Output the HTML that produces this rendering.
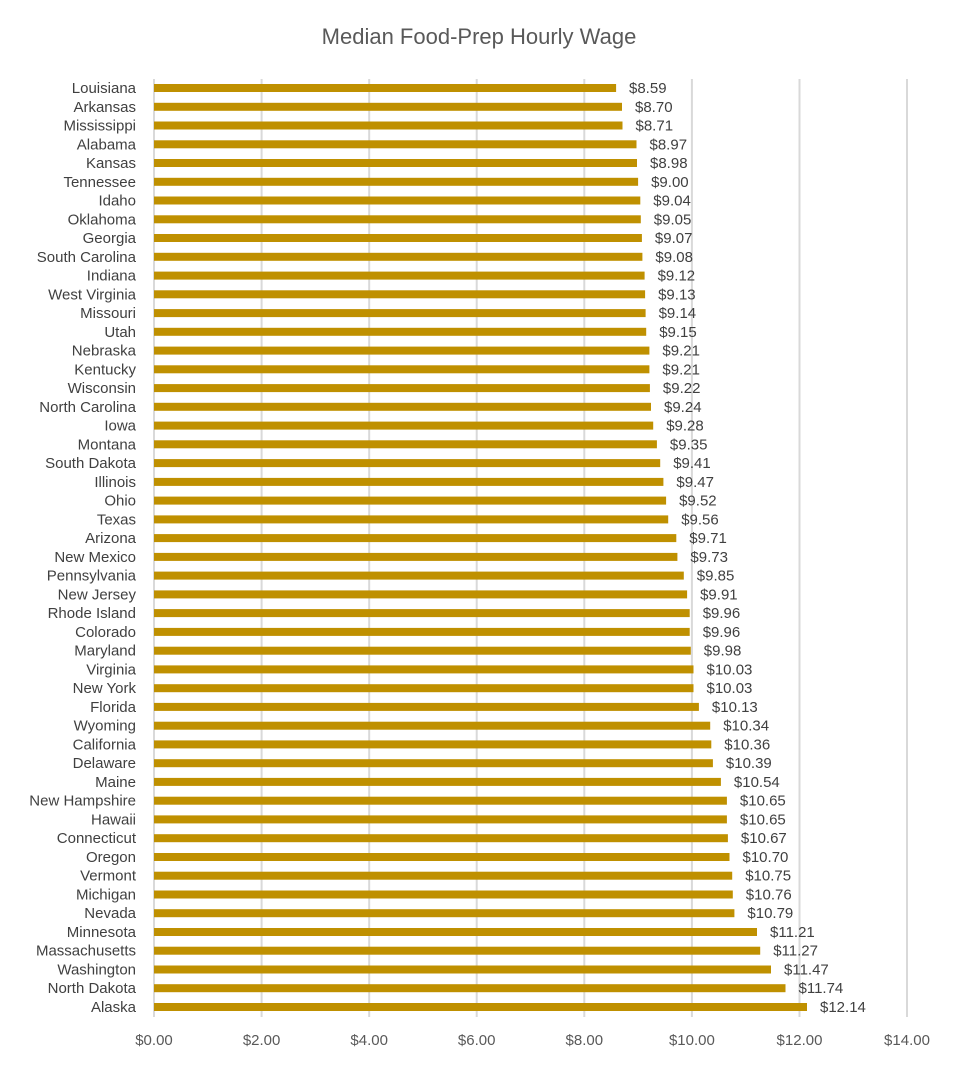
<!DOCTYPE html>
<html><head><meta charset="utf-8"><style>
html,body{margin:0;padding:0;background:#fff;}
svg{display:block;font-family:"Liberation Sans",sans-serif;}
.s{font-size:15px;fill:#404040;text-anchor:end;}
.v{font-size:15px;fill:#404040;}
.t{font-size:15px;fill:#595959;text-anchor:middle;}
</style></head><body>
<svg width="958" height="1065" viewBox="0 0 958 1065">
<rect width="958" height="1065" fill="#fff"/>
<text x="479" y="44" text-anchor="middle" font-size="22" fill="#595959">Median Food-Prep Hourly Wage</text>
<g stroke="#d9d9d9" stroke-width="2">
<line x1="261.6" y1="79" x2="261.6" y2="1017"/><line x1="369.2" y1="79" x2="369.2" y2="1017"/><line x1="476.7" y1="79" x2="476.7" y2="1017"/><line x1="584.3" y1="79" x2="584.3" y2="1017"/><line x1="691.9" y1="79" x2="691.9" y2="1017"/><line x1="799.5" y1="79" x2="799.5" y2="1017"/><line x1="907" y1="79" x2="907" y2="1017"/>
<line x1="154" y1="79" x2="154" y2="1017"/>
</g>
<g fill="#bf9000">
<rect x="154" y="84" width="462.1" height="8"/><rect x="154" y="102.8" width="468" height="8"/><rect x="154" y="121.5" width="468.5" height="8"/><rect x="154" y="140.3" width="482.5" height="8"/><rect x="154" y="159" width="483" height="8"/><rect x="154" y="177.8" width="484.1" height="8"/><rect x="154" y="196.5" width="486.3" height="8"/><rect x="154" y="215.3" width="486.8" height="8"/><rect x="154" y="234" width="487.9" height="8"/><rect x="154" y="252.8" width="488.4" height="8"/>
<rect x="154" y="271.6" width="490.6" height="8"/><rect x="154" y="290.3" width="491.1" height="8"/><rect x="154" y="309.1" width="491.6" height="8"/><rect x="154" y="327.8" width="492.2" height="8"/><rect x="154" y="346.6" width="495.4" height="8"/><rect x="154" y="365.3" width="495.4" height="8"/><rect x="154" y="384.1" width="495.9" height="8"/><rect x="154" y="402.8" width="497" height="8"/><rect x="154" y="421.6" width="499.2" height="8"/><rect x="154" y="440.3" width="502.9" height="8"/>
<rect x="154" y="459.1" width="506.2" height="8"/><rect x="154" y="477.9" width="509.4" height="8"/><rect x="154" y="496.6" width="512.1" height="8"/><rect x="154" y="515.4" width="514.2" height="8"/><rect x="154" y="534.1" width="522.3" height="8"/><rect x="154" y="552.9" width="523.4" height="8"/><rect x="154" y="571.6" width="529.8" height="8"/><rect x="154" y="590.4" width="533.1" height="8"/><rect x="154" y="609.1" width="535.7" height="8"/><rect x="154" y="627.9" width="535.7" height="8"/>
<rect x="154" y="646.7" width="536.8" height="8"/><rect x="154" y="665.4" width="539.5" height="8"/><rect x="154" y="684.2" width="539.5" height="8"/><rect x="154" y="702.9" width="544.9" height="8"/><rect x="154" y="721.7" width="556.2" height="8"/><rect x="154" y="740.4" width="557.3" height="8"/><rect x="154" y="759.2" width="558.9" height="8"/><rect x="154" y="777.9" width="566.9" height="8"/><rect x="154" y="796.7" width="572.9" height="8"/><rect x="154" y="815.4" width="572.9" height="8"/>
<rect x="154" y="834.2" width="573.9" height="8"/><rect x="154" y="853" width="575.5" height="8"/><rect x="154" y="871.7" width="578.2" height="8"/><rect x="154" y="890.5" width="578.8" height="8"/><rect x="154" y="909.2" width="580.4" height="8"/><rect x="154" y="928" width="603" height="8"/><rect x="154" y="946.7" width="606.2" height="8"/><rect x="154" y="965.5" width="617" height="8"/><rect x="154" y="984.2" width="631.5" height="8"/><rect x="154" y="1003" width="653" height="8"/>
</g>
<g class="s">
<text x="136" y="93">Louisiana</text><text x="136" y="111.8">Arkansas</text><text x="136" y="130.5">Mississippi</text><text x="136" y="149.3">Alabama</text><text x="136" y="168">Kansas</text><text x="136" y="186.8">Tennessee</text><text x="136" y="205.5">Idaho</text><text x="136" y="224.3">Oklahoma</text><text x="136" y="243">Georgia</text><text x="136" y="261.8">South Carolina</text>
<text x="136" y="280.6">Indiana</text><text x="136" y="299.3">West Virginia</text><text x="136" y="318.1">Missouri</text><text x="136" y="336.8">Utah</text><text x="136" y="355.6">Nebraska</text><text x="136" y="374.3">Kentucky</text><text x="136" y="393.1">Wisconsin</text><text x="136" y="411.8">North Carolina</text><text x="136" y="430.6">Iowa</text><text x="136" y="449.3">Montana</text>
<text x="136" y="468.1">South Dakota</text><text x="136" y="486.9">Illinois</text><text x="136" y="505.6">Ohio</text><text x="136" y="524.4">Texas</text><text x="136" y="543.1">Arizona</text><text x="136" y="561.9">New Mexico</text><text x="136" y="580.6">Pennsylvania</text><text x="136" y="599.4">New Jersey</text><text x="136" y="618.1">Rhode Island</text><text x="136" y="636.9">Colorado</text>
<text x="136" y="655.7">Maryland</text><text x="136" y="674.4">Virginia</text><text x="136" y="693.2">New York</text><text x="136" y="711.9">Florida</text><text x="136" y="730.7">Wyoming</text><text x="136" y="749.4">California</text><text x="136" y="768.2">Delaware</text><text x="136" y="786.9">Maine</text><text x="136" y="805.7">New Hampshire</text><text x="136" y="824.4">Hawaii</text>
<text x="136" y="843.2">Connecticut</text><text x="136" y="862">Oregon</text><text x="136" y="880.7">Vermont</text><text x="136" y="899.5">Michigan</text><text x="136" y="918.2">Nevada</text><text x="136" y="937">Minnesota</text><text x="136" y="955.7">Massachusetts</text><text x="136" y="974.5">Washington</text><text x="136" y="993.2">North Dakota</text><text x="136" y="1012">Alaska</text>
</g>
<g class="v">
<text x="629" y="93">$8.59</text><text x="635" y="111.8">$8.70</text><text x="635.5" y="130.5">$8.71</text><text x="649.5" y="149.3">$8.97</text><text x="650" y="168">$8.98</text><text x="651.1" y="186.8">$9.00</text><text x="653.3" y="205.5">$9.04</text><text x="653.8" y="224.3">$9.05</text><text x="654.9" y="243">$9.07</text><text x="655.4" y="261.8">$9.08</text>
<text x="657.6" y="280.6">$9.12</text><text x="658.1" y="299.3">$9.13</text><text x="658.6" y="318.1">$9.14</text><text x="659.2" y="336.8">$9.15</text><text x="662.4" y="355.6">$9.21</text><text x="662.4" y="374.3">$9.21</text><text x="662.9" y="393.1">$9.22</text><text x="664" y="411.8">$9.24</text><text x="666.2" y="430.6">$9.28</text><text x="669.9" y="449.3">$9.35</text>
<text x="673.2" y="468.1">$9.41</text><text x="676.4" y="486.9">$9.47</text><text x="679.1" y="505.6">$9.52</text><text x="681.2" y="524.4">$9.56</text><text x="689.3" y="543.1">$9.71</text><text x="690.4" y="561.9">$9.73</text><text x="696.8" y="580.6">$9.85</text><text x="700.1" y="599.4">$9.91</text><text x="702.7" y="618.1">$9.96</text><text x="702.7" y="636.9">$9.96</text>
<text x="703.8" y="655.7">$9.98</text><text x="706.5" y="674.4">$10.03</text><text x="706.5" y="693.2">$10.03</text><text x="711.9" y="711.9">$10.13</text><text x="723.2" y="730.7">$10.34</text><text x="724.3" y="749.4">$10.36</text><text x="725.9" y="768.2">$10.39</text><text x="733.9" y="786.9">$10.54</text><text x="739.9" y="805.7">$10.65</text><text x="739.9" y="824.4">$10.65</text>
<text x="740.9" y="843.2">$10.67</text><text x="742.5" y="862">$10.70</text><text x="745.2" y="880.7">$10.75</text><text x="745.8" y="899.5">$10.76</text><text x="747.4" y="918.2">$10.79</text><text x="770" y="937">$11.21</text><text x="773.2" y="955.7">$11.27</text><text x="784" y="974.5">$11.47</text><text x="798.5" y="993.2">$11.74</text><text x="820" y="1012">$12.14</text>
</g>
<g class="t">
<text x="154" y="1045">$0.00</text><text x="261.6" y="1045">$2.00</text><text x="369.2" y="1045">$4.00</text><text x="476.7" y="1045">$6.00</text><text x="584.3" y="1045">$8.00</text><text x="691.9" y="1045">$10.00</text><text x="799.5" y="1045">$12.00</text><text x="907" y="1045">$14.00</text>
</g>
</svg>
</body></html>
